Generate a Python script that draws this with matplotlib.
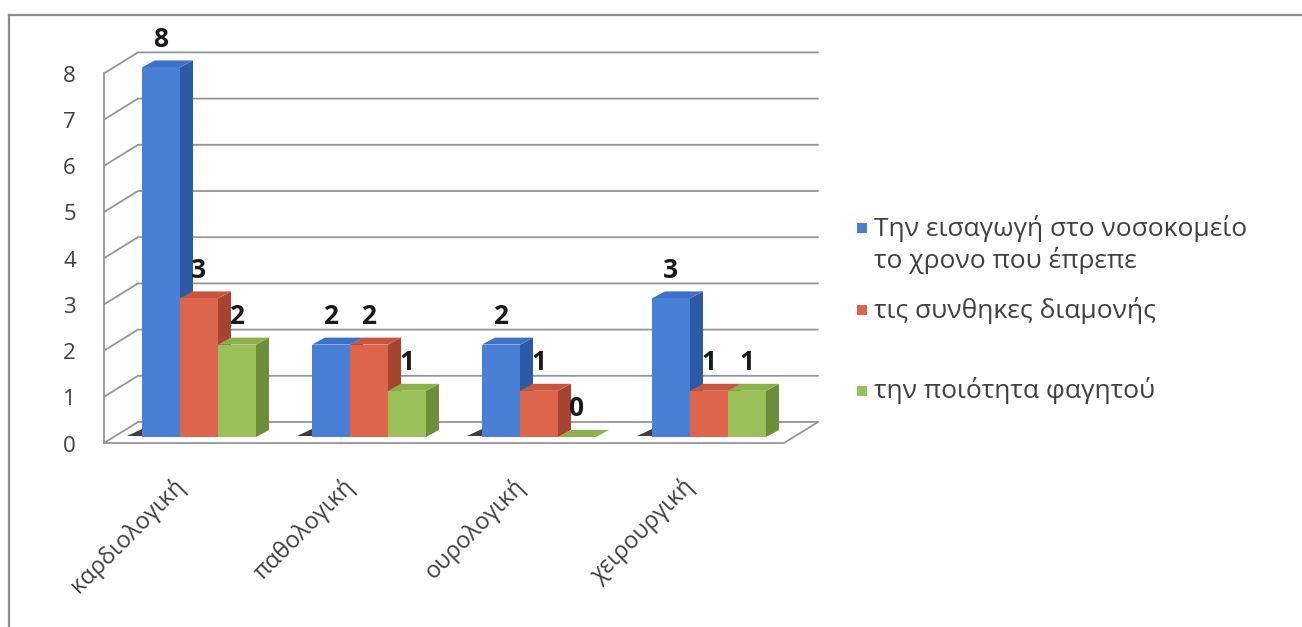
import matplotlib
matplotlib.use("Agg")
import matplotlib.pyplot as plt
from matplotlib.patches import Polygon, Rectangle
from matplotlib.lines import Line2D

plt.rcParams['font.family'] = ['Open Sans', 'DejaVu Sans']

# ---- data ----
categories = ["καρδιολογική", "παθολογική", "ουρολογική", "χειρουργική"]
series_labels = [
    "Την εισαγωγή στο νοσοκομείο\nτο χρονο που έπρεπε",
    "τις συνθηκες διαμονής",
    "την ποιότητα φαγητού",
]
admission = [8, 2, 2, 3]
conditions = [3, 2, 1, 1]
food = [2, 1, 0, 1]
series_values = [admission, conditions, food]
y_ticks = [0, 1, 2, 3, 4, 5, 6, 7, 8]

# face colours: (front, top, side)
palette = [
    ("#4a7fd6", "#3d71c9", "#2d5aa6"),
    ("#dc654c", "#c8563f", "#a6442f"),
    ("#9bbf59", "#8bb04c", "#6c8d3a"),
]

# ---- geometry of the pseudo-3D scene (pixels -> data units) ----
W, H, DPI = 1302, 627, 100
XPX, YPX = 170.0, 46.2          # pixels per category / per value unit
X0_PX, Y0_PX = 199.0, 437.0     # pixel position of (category 0, value 0)


def px(dx, dy):
    """Pixel offset (right, down) expressed in data units."""
    return dx / XPX, -dy / YPX


FRONT = px(-10, 6)
BACK = px(24, -15)
DEPTH = px(13, -7)
BAR_W = 38 / XPX
X_LEFT, X_RIGHT = -0.5, len(categories) - 0.5

fig = plt.figure(figsize=(W / DPI, H / DPI), dpi=DPI)
fig.patch.set_facecolor("white")
ax = fig.add_axes([0, 0, 1, 1])
ax.set_xlim(-X0_PX / XPX, (W - X0_PX) / XPX)
ax.set_ylim(-(H - Y0_PX) / YPX, Y0_PX / YPX)
ax.axis("off")

# outer frame
fig.add_artist(Line2D([9 / W, 9 / W], [0, 1 - 15 / H], color="#8c8c8c", lw=1.6))
fig.add_artist(Line2D([9 / W, 1], [1 - 15 / H, 1 - 15 / H], color="#8c8c8c", lw=1.6))

# walls: gridlines run along the side wall and across the back wall
grid_kw = dict(color="#939598", lw=1.3, zorder=1, solid_capstyle="round")
for v in y_ticks:
    ax.plot([X_LEFT + FRONT[0], X_LEFT + BACK[0], X_RIGHT + BACK[0]],
            [v + FRONT[1], v + BACK[1], v + BACK[1]], **grid_kw)
ax.plot([X_LEFT + FRONT[0]] * 2, [y_ticks[0] + FRONT[1], y_ticks[-1] + FRONT[1]], **grid_kw)
# floor outline
ax.plot([X_LEFT + FRONT[0], X_RIGHT + FRONT[0], X_RIGHT + BACK[0]],
        [FRONT[1], FRONT[1], BACK[1]], **grid_kw)

# y tick labels on the front edge of the side wall
for v in y_ticks:
    ax.text((76 - X0_PX) / XPX, v + FRONT[1] - 3 / YPX, str(v), ha="right", va="center",
            fontsize=16, color="#404040")

# bars
n_series = len(series_values)
offsets = [(i - (n_series - 1) / 2) * BAR_W for i in range(n_series)]
order = 0
for ci in range(len(categories)):
    # small floor shadow at the left foot of each group
    gx = ci + offsets[0] - BAR_W / 2
    sx, sy = px(-15, 0)
    tx, ty = px(0, -8)
    ax.add_patch(Polygon([(gx + sx, 0.02), (gx, 0.02), (gx + tx, ty)],
                         closed=True, color="#1c1c1c", alpha=0.85, lw=0, zorder=2))
    for si in range(n_series):
        front_c, top_c, side_c = palette[si]
        val = series_values[si][ci]
        bar = ax.bar(ci + offsets[si], val, BAR_W, color=front_c, lw=0,
                     zorder=10 + order * 3 + 2)[0]
        x0, w, h = bar.get_x(), bar.get_width(), bar.get_height()
        dx, dy = DEPTH
        side = Polygon([(x0 + w, 0), (x0 + w + dx, dy), (x0 + w + dx, h + dy), (x0 + w, h)],
                       closed=True, color=side_c, lw=0, zorder=10 + order * 3)
        top = Polygon([(x0, h), (x0 + w, h), (x0 + w + dx, h + dy), (x0 + dx, h + dy)],
                      closed=True, color=top_c, lw=0, zorder=10 + order * 3 + 1)
        ax.add_patch(side)
        ax.add_patch(top)
        ax.text(x0 + w / 2, h + 28 / YPX, str(val), ha="center", va="center",
                fontsize=19, fontweight="bold", color="#1a1a1a", zorder=200)
        order += 1

# category labels, rotated
for ci, name in enumerate(categories):
    ax.text(ci - 27 / XPX, (Y0_PX - 474) / YPX, name, rotation=45,
            rotation_mode="anchor", ha="right", va="top", fontsize=17,
            color="#404040")

# legend
legend_rows = [228, 310, 391]
for si, (label, row) in enumerate(zip(series_labels, legend_rows)):
    ax.add_patch(Rectangle(((857 - X0_PX) / XPX, (Y0_PX - row - 5) / YPX),
                           10 / XPX, 10 / YPX, color=palette[si][0], lw=0))
    for li, line in enumerate(label.split("\n")):
        ax.text((874 - X0_PX) / XPX, (Y0_PX - row - li * 33) / YPX, line,
                ha="left", va="center", fontsize=19, color="#404040")

fig.savefig("out.png", dpi=DPI, facecolor="white")
